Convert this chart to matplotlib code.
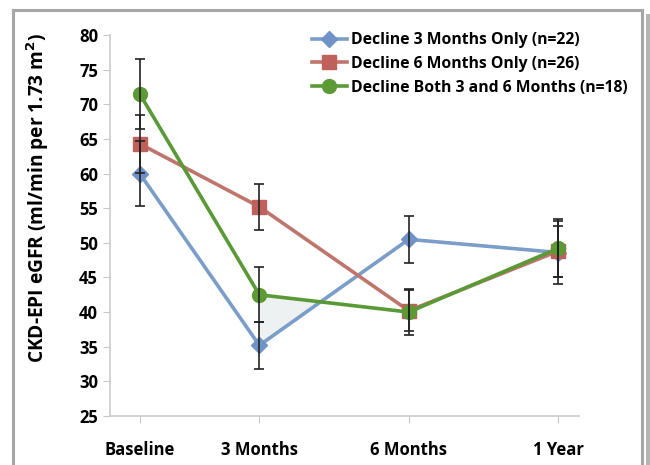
import numpy as np
import matplotlib.pyplot as plt
from matplotlib.lines import Line2D
from matplotlib.patches import Rectangle

plt.rcParams['font.family'] = ['Open Sans', 'DejaVu Sans']

timepoints = ["Baseline", "3 Months", "6 Months", "1 Year"]
xpos = [0.2, 1, 2, 3]

names = ["Decline 3 Months Only (n=22)",
         "Decline 6 Months Only (n=26)",
         "Decline Both 3 and 6 Months (n=18)"]
means_3mo = [60.0, 35.2, 50.5, 48.6]
err_3mo = [4.7, 3.4, 3.4, 4.6]
means_6mo = [64.3, 55.2, 40.2, 48.8]
err_6mo = [4.2, 3.3, 3.0, 3.7]
means_both = [71.5, 42.5, 40.0, 49.2]
err_both = [5.0, 4.0, 3.3, 4.2]

colors = ["#7b9dc9", "#c0756c", "#5a9a36"]
mcolors = ["#6f93c6", "#c0605a", "#5c9a34"]
markers = ["D", "s", "o"]
msizes = [8, 10, 10]

fig = plt.figure(figsize=(6.5, 4.65), dpi=100)
ax = fig.add_axes([0.169, 0.1054, 0.722, 0.8193])

series = [(means_3mo, err_3mo), (means_6mo, err_6mo), (means_both, err_both)]

# light shading between green and blue just after 3 months
g = np.array(means_both[1:3])
b = np.array(means_3mo[1:3])
ax.fill_between(xpos[1:3], g, b, where=g > b, interpolate=True,
                color="#eef1f1", zorder=1)

for i, (m, e) in enumerate(series):
    ax.plot(xpos, m, color=colors[i], lw=2.6, marker=markers[i], ms=msizes[i],
            mfc=mcolors[i], mec=mcolors[i], label=names[i], zorder=3 + i)
    ax.errorbar(xpos, m, yerr=e, fmt="none", ecolor="#222222", elinewidth=1.2,
                capsize=3.5, capthick=1.2, zorder=7)

ax.set_ylim(25, 80)
ax.set_yticks(range(25, 81, 5))
ax.set_xlim(0, 3.14)
ax.set_xticks(xpos)
ax.set_xticklabels(timepoints)
ax.tick_params(axis="both", colors="#c8c8c8", labelcolor="black", length=5,
               labelsize=12)
ax.tick_params(axis="x", pad=13)
for lab in ax.get_xticklabels() + ax.get_yticklabels():
    lab.set_fontweight("bold")

for s in ["top", "right"]:
    ax.spines[s].set_visible(False)
for s in ["left", "bottom"]:
    ax.spines[s].set_color("#d0d0d0")
    ax.spines[s].set_linewidth(1.3)

ax.set_ylabel("CKD-EPI eGFR (ml/min per 1.73 m$^\\mathbf{2}$)", fontsize=13.8,
              fontweight="bold")
ax.yaxis.set_label_coords(-0.125, 0.572)

leg = ax.legend(loc="upper right", bbox_to_anchor=(1.134, 1.045), frameon=False,
                prop={"size": 11.3, "weight": "bold"}, handlelength=2.2,
                handletextpad=0.3, labelspacing=0.5)

# figure frame
fc = "#a6a6a6"
fig.add_artist(Line2D([13 / 650, 13 / 650], [0, 1 - 10 / 465], color=fc, lw=2.2))
fig.add_artist(Line2D([13 / 650, 642 / 650], [1 - 10 / 465, 1 - 10 / 465], color=fc, lw=2.2))
fig.add_artist(Line2D([642 / 650, 642 / 650], [0, 1 - 10 / 465], color=fc, lw=2.2))
fig.add_artist(Rectangle((646 / 650, 0), 4 / 650, 1 - 14 / 465,
                         transform=fig.transFigure, color="#b5b5b5", lw=0))

fig.savefig("out.png", dpi=100)
